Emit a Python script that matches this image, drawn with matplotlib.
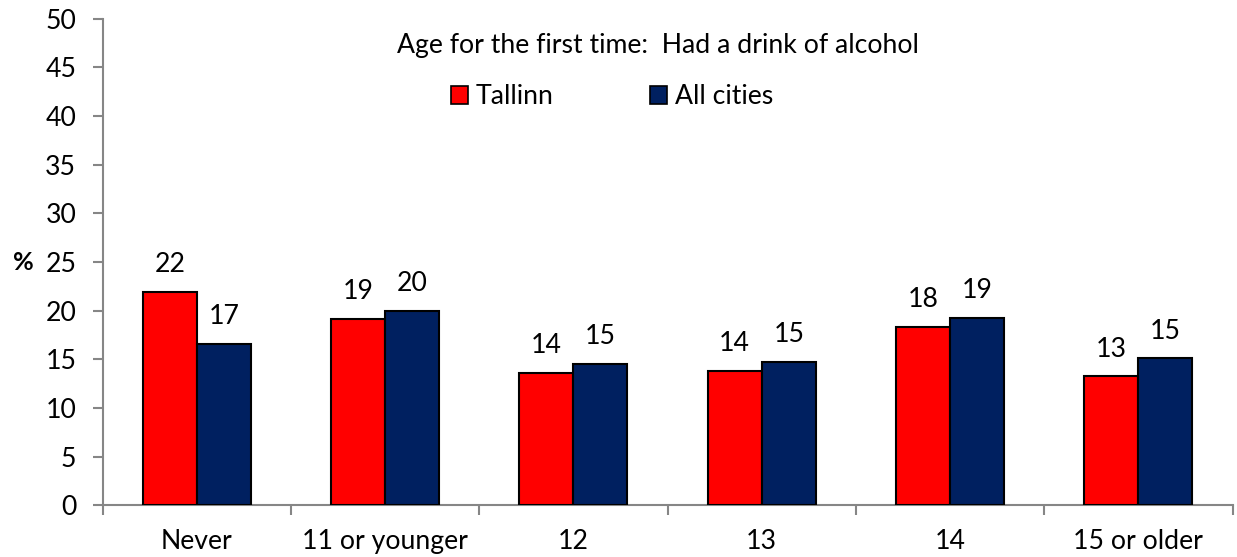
import matplotlib
matplotlib.use("Agg")
import matplotlib.pyplot as plt
import numpy as np
from matplotlib.patches import Patch

categories = ["Never", "11 or younger", "12", "13", "14", "15 or older"]
tallinn = [21.95, 19.17, 13.63, 13.84, 18.32, 13.25]
all_cities = [16.55, 19.94, 14.52, 14.73, 19.25, 15.10]
series_names = ["Tallinn", "All cities"]
title = "Age for the first time:  Had a drink of alcohol"

plt.rcParams['font.family'] = ['Lato', 'DejaVu Sans']
FS = 19.2

fig = plt.figure(figsize=(12.37, 5.57), dpi=100)
ax = fig.add_axes([0.083, 0.0928, 0.9134, 0.8734])

red = "#FF0000"
navy = "#002060"
x = np.arange(len(categories))
w = 0.287
b1 = ax.bar(x - w/2, tallinn, w, color=red, edgecolor="black", linewidth=1.5, zorder=3)
b2 = ax.bar(x + w/2, all_cities, w, color=navy, edgecolor="black", linewidth=1.5, zorder=3)

for bars, vals in ((b1, tallinn), (b2, all_cities)):
    for rect, v in zip(bars, vals):
        ax.annotate(f"{v:.0f}", (rect.get_x() + rect.get_width()/2, v),
                    xytext=(0, 14.3), textcoords="offset points",
                    ha="center", va="baseline", fontsize=FS)

ax.set_xlim(-0.5, len(categories) - 0.5)
ax.set_ylim(0, 50)
ax.set_yticks(np.arange(0, 51, 5))
ax.set_xticks(np.arange(-0.5, len(categories), 1.0))
ax.set_xticklabels([])
ax.set_xticks(x, minor=True)
ax.set_xticklabels(categories, minor=True)

gray = "#868686"
for s in ("top", "right"):
    ax.spines[s].set_visible(False)
for s in ("left", "bottom"):
    ax.spines[s].set_color(gray)
    ax.spines[s].set_linewidth(1.5)
ax.tick_params(axis="y", which="major", length=7, width=1.5, color=gray, pad=12, labelsize=FS)
ax.tick_params(axis="x", which="major", length=7, width=1.5, color=gray, direction="out")
ax.tick_params(axis="x", which="minor", length=0, pad=17, labelsize=FS)

fig.text(23/1237, 1 - 263/557, "%", fontsize=FS - 1, fontweight="bold", ha="center", va="center")

fig.text(658/1237, 1 - 46/557, title, fontsize=FS, ha="center", va="center")

handles = [Patch(facecolor=red, edgecolor="black", linewidth=1.2),
           Patch(facecolor=navy, edgecolor="black", linewidth=1.2)]
fig.legend(handles, series_names, loc="center", bbox_to_anchor=(612/1237, 1 - 97/557),
           ncol=2, frameon=False, fontsize=FS, handlelength=0.65, handleheight=0.65,
           handletextpad=0.3, columnspacing=3.6, borderpad=0, borderaxespad=0)

fig.savefig("out.png", dpi=100)
